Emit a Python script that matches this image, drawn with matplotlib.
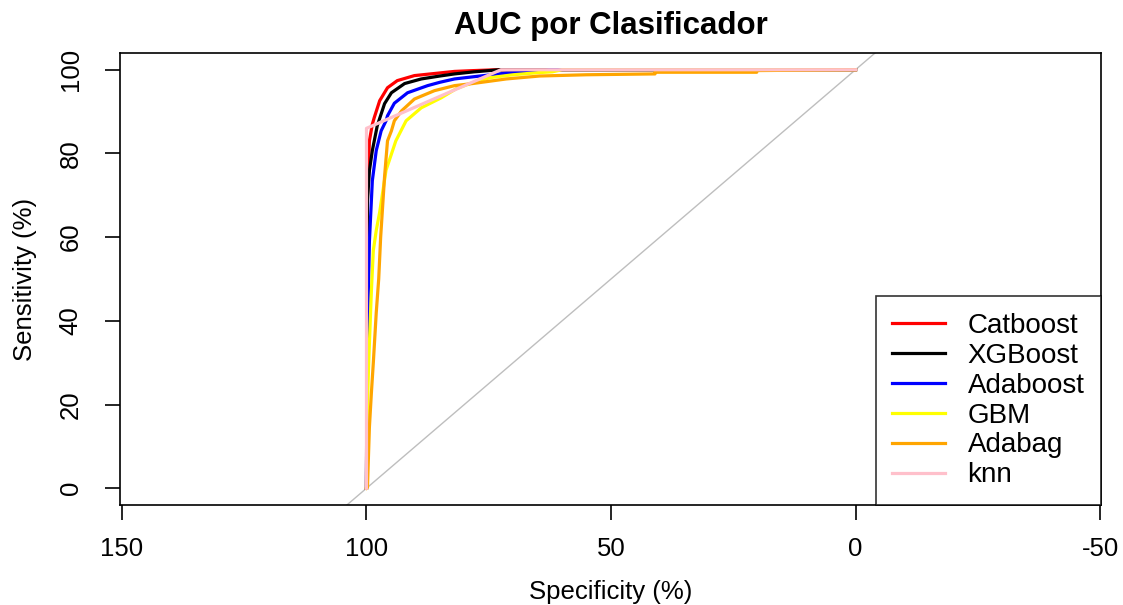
import matplotlib
matplotlib.use("Agg")
import matplotlib.pyplot as plt

plt.rcParams['font.family'] = ['Liberation Sans', 'DejaVu Sans']

# ---- datos (especificidad %, sensibilidad %) ----
modelos = ['Catboost', 'XGBoost', 'Adaboost', 'GBM', 'Adabag', 'knn']
colores = ['#FF0000', '#000000', '#0000FF', '#FFFF00', '#FFA500', '#FFC0CB']

spec_cat = [100, 99.9, 99.8, 99.4, 98.8, 98.4, 97.3, 95.7, 93.7, 90.2, 86.1, 82, 78, 73.4, 0]
sens_cat = [0, 40, 70, 83, 87, 88.6, 92.6, 95.7, 97.4, 98.6, 99.1, 99.6, 99.8, 100, 100]

spec_xgb = [100, 99.9, 99.8, 99.4, 98.8, 98.0, 97.8, 96.3, 94.9, 92.2, 88.8, 85, 82, 78, 72.8, 0]
sens_xgb = [0, 40, 68.7, 75.9, 80.7, 85.4, 86.6, 91.9, 94.5, 96.7, 97.8, 98.5, 99, 99.5, 100, 100]

spec_ada = [100, 99.9, 99.6, 99.4, 98.8, 98.0, 97.0, 96.0, 95.7, 94.3, 91.6, 87.5, 85, 82, 78.3, 71.4, 64.6, 62.6, 0]
sens_ada = [0, 30, 48, 59, 73.5, 80.7, 85.4, 87.8, 89, 92, 94.5, 96.2, 97.0, 97.8, 98.3, 99.2, 99.4, 100, 100]

spec_gbm = [100, 99.8, 99.6, 99.4, 99.0, 98.6, 98.0, 97.3, 96.0, 94.0, 91.9, 88.8, 84.7, 81.6, 78.3, 74.8, 70, 65, 62, 60, 0]
sens_gbm = [0, 20, 28, 34.6, 47, 56.8, 61.6, 66, 76, 83, 87.8, 90.9, 93.3, 95.5, 96.9, 98.1, 98.8, 99.3, 99.5, 100, 100]

spec_bag = [100, 99.8, 99.4, 99.0, 98.6, 98.0, 97.5, 97.1, 96.3, 95.7, 94.9, 94.3, 92.8, 90.2, 86.1, 82,
            78.3, 71.4, 64.6, 55, 41, 41, 20.2, 20.2, 0]
sens_bag = [0, 0.2, 14.6, 22.7, 30, 42, 50, 60, 74.5, 83, 85.4, 87.8, 90.2, 93, 95, 96.2,
            96.7, 97.8, 98.5, 98.8, 99, 99.4, 99.4, 99.8, 100]

spec_knn = [100, 100, 72.5, 0]
sens_knn = [0, 86, 100, 100]

specs = [spec_cat, spec_xgb, spec_ada, spec_gbm, spec_bag, spec_knn]
senss = [sens_cat, sens_xgb, sens_ada, sens_gbm, sens_bag, sens_knn]

fig = plt.figure(figsize=(11.23, 6.05), dpi=100)
ax = fig.add_axes([0.10686, 0.16529, 0.87355, 0.74711])

# diagonal de referencia
ax.axline((100, 0), (0, 100), color='#BEBEBE', lw=1.0, zorder=1)

for sp, se, c, m in zip(specs, senss, colores, modelos):
    ax.plot(sp, se, color=c, lw=2.3, label=m, zorder=2)

ax.set_xlim(150.4, -50.2)
ax.set_ylim(-4, 104)
ax.set_xticks([150, 100, 50, 0, -50])
ax.set_xticklabels(['150', '100', '50', '0', '-50'])
ax.set_yticks([0, 20, 40, 60, 80, 100])

for s in ax.spines.values():
    s.set_linewidth(1.2)
ax.tick_params(axis='both', length=11, width=1.2, labelsize=18.5)
ax.tick_params(axis='x', pad=12)
ax.tick_params(axis='y', pad=16)
for lab in ax.get_yticklabels():
    lab.set_rotation(90)
    lab.set_va('center')

ax.set_title('AUC por Clasificador', fontsize=22.5, fontweight='bold', pad=14)
ax.set_xlabel('Specificity (%)', fontsize=18.5, va='center')
ax.set_ylabel('Sensitivity (%)', fontsize=18.5, va='center')
ax.xaxis.set_label_coords(0.5, -0.1925)
ax.yaxis.set_label_coords(-0.0968, 0.5)

leg = ax.legend(loc='lower right', bbox_to_anchor=(1, 0), borderaxespad=0,
                fontsize=20, frameon=True, fancybox=False, handlelength=1.9,
                handletextpad=0.8, labelspacing=0.14, borderpad=0.6)
leg.get_frame().set_edgecolor('black')
leg.get_frame().set_linewidth(1.2)

fig.savefig('out.png', dpi=100)
